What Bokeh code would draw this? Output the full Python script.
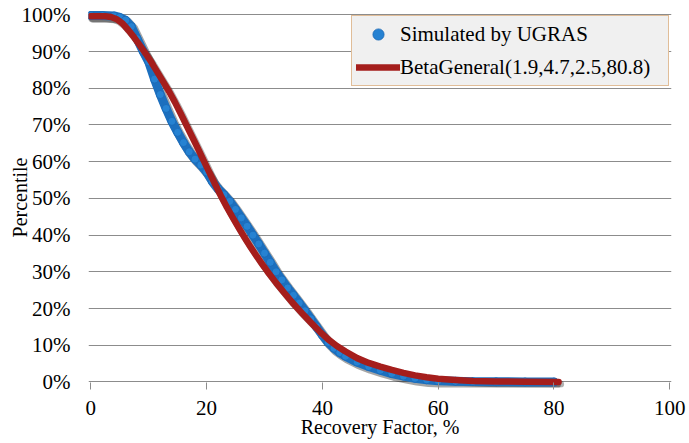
from bokeh.plotting import figure
from bokeh.models import (ColumnDataSource, Range1d, FixedTicker, PrintfTickFormatter,
                          Legend, LegendItem)
from bokeh.transform import dodge
from bokeh.embed import file_html
from bokeh.resources import INLINE

# Simulated recovery-factor exceedance curve (x in %, percentile in %)
sim_rf = [0, 2, 4, 5, 6, 7, 8, 9, 10, 11, 12, 13, 14, 15, 16, 17, 18, 19, 20, 21,
          22, 23, 24, 25, 26, 27, 28, 29, 30, 31, 32, 33, 34, 35, 36, 37, 38, 39,
          40, 41, 42, 43, 44, 46, 48, 50, 52, 54, 56, 58, 60, 63, 66, 70, 75, 80]
sim_pct = [99.8, 99.8, 99.7, 99.3, 98.5, 96.8, 93.5, 90.2, 87.2, 82.5, 78.3, 74.5,
           71.0, 68.0, 65.2, 62.7, 60.7, 59.1, 57.2, 54.6, 52.6, 51.0, 49.2, 47.0,
           44.7, 42.4, 40.0, 37.6, 35.1, 32.6, 30.0, 27.8, 25.6, 23.6, 21.5, 19.4,
           17.2, 15.0, 12.8, 10.8, 9.2, 8.0, 7.0, 5.4, 4.2, 3.2, 2.3, 1.6, 1.0, 0.6,
           0.35, 0.2, 0.1, 0.05, 0.02, 0.0]

# Fitted BetaGeneral(1.9, 4.7, 2.5, 80.8) exceedance curve
fit_rf = [0, 2.5, 3.5, 4.5, 5.5, 6.5, 7.5, 8.5, 9.5, 10.5, 11.5, 12.5, 13.5, 14.5,
          15.5, 16.5, 17.5, 18.5, 19.5, 20.5, 21.5, 22.5, 23.5, 24.5, 25.5, 26.5,
          27.5, 28.5, 29.5, 30.5, 32, 33.5, 35, 36.5, 38, 39.5, 41, 42.5, 44, 46,
          48, 50, 52, 54, 56, 58, 60, 63, 66, 70, 75, 80.8]
fit_pct = [99.6, 99.6, 99.4, 98.8, 97.6, 95.8, 93.8, 91.6, 89.4, 87.0, 84.4, 81.8,
           79.2, 76.3, 73.2, 70.0, 66.8, 63.6, 60.3, 57.0, 53.8, 50.6, 47.6, 44.8,
           42.1, 39.5, 37.0, 34.6, 32.3, 30.1, 27.0, 24.1, 21.3, 18.7, 16.2, 13.8,
           11.6, 9.8, 8.3, 6.5, 5.2, 4.2, 3.3, 2.5, 1.8, 1.3, 0.9, 0.55, 0.3, 0.15,
           0.05, 0.0]

x_ticks = [0, 20, 40, 60, 80, 100]
y_ticks = [0, 10, 20, 30, 40, 50, 60, 70, 80, 90, 100]

sim_label = "Simulated by UGRAS"
fit_label = "BetaGeneral(1.9,4.7,2.5,80.8)"

FONT = "Liberation Serif"
GRID = "#8c8c8c"

sim = ColumnDataSource(dict(x=sim_rf, y=sim_pct))
fit = ColumnDataSource(dict(x=fit_rf, y=fit_pct))

p = figure(width=689, height=443, output_backend="svg", toolbar_location=None,
           x_range=Range1d(-0.4, 100.3), y_range=Range1d(-1.5, 102),
           min_border_left=88, min_border_right=18, min_border_top=7,
           min_border_bottom=56, outline_line_color=None)

# axes
p.xaxis.ticker = FixedTicker(ticks=x_ticks)
p.yaxis.ticker = FixedTicker(ticks=y_ticks)
p.yaxis.formatter = PrintfTickFormatter(format="%d%%")
p.xaxis.axis_label = "Recovery Factor, %"
p.yaxis.axis_label = "Percentile"

p.xaxis.major_label_text_font = FONT
p.yaxis.major_label_text_font = FONT
p.xaxis.axis_label_text_font = FONT
p.yaxis.axis_label_text_font = FONT
p.xaxis.axis_label_text_font_style = "normal"
p.yaxis.axis_label_text_font_style = "normal"
p.xaxis.major_label_text_font_size = "21px"
p.yaxis.major_label_text_font_size = "21px"
p.xaxis.axis_label_text_font_size = "20px"
p.yaxis.axis_label_text_font_size = "20px"
p.xaxis.major_label_text_color = "black"
p.yaxis.major_label_text_color = "black"
p.xaxis.axis_label_text_color = "black"
p.yaxis.axis_label_text_color = "black"
p.xaxis.minor_tick_line_color = None
p.yaxis.minor_tick_line_color = None
p.xaxis.axis_line_color = None
p.yaxis.axis_line_color = None

p.xaxis.major_tick_line_color = GRID
p.xaxis.major_tick_in = 5
p.xaxis.major_tick_out = 2
p.xaxis.major_label_standoff = 11
p.xaxis.axis_label_standoff = -2

p.yaxis.major_tick_line_color = None
p.yaxis.major_tick_in = 0
p.yaxis.major_tick_out = 0
p.yaxis.major_label_standoff = 18
p.yaxis.axis_label_standoff = -12

p.xgrid.grid_line_color = None
p.ygrid.grid_line_color = GRID
p.ygrid.grid_line_width = 1

# shadows under both curves
p.line(x=dodge("x", 0.35, range=p.x_range), y=dodge("y", -0.6, range=p.y_range),
       source=sim, line_color="black", line_alpha=0.35, line_width=10,
       line_cap="round", line_join="round")
p.line(x=dodge("x", 0.35, range=p.x_range), y=dodge("y", -0.6, range=p.y_range),
       source=fit, line_color="black", line_alpha=0.3, line_width=7,
       line_cap="round", line_join="round")

# simulated points as a dense band of dots
p.line("x", "y", source=sim, line_color="#1c6fbe", line_width=9,
       line_cap="round", line_join="round")
sim_dots = p.scatter("x", "y", source=sim, size=8, marker="circle",
                     fill_color="#2682d2", line_color="#1a68b5", line_width=0.8)

# fitted distribution
fit_line = p.line("x", "y", source=fit, line_color="#a51e1c", line_width=6.5,
                  line_cap="round", line_join="round")

legend = Legend(items=[LegendItem(label=sim_label, renderers=[sim_dots]),
                       LegendItem(label=fit_label, renderers=[fit_line])],
                location=(263, 301), margin=0, padding=4, spacing=5,
                glyph_width=44, glyph_height=28, label_height=28,
                label_width=264, label_standoff=0,
                label_text_font=FONT, label_text_font_size="21px",
                label_text_color="black",
                background_fill_color="#f0f0f0", background_fill_alpha=1.0,
                border_line_color="#d08a40", border_line_width=1.5)
p.add_layout(legend)

open("out.html", "w").write(file_html(p, INLINE))
